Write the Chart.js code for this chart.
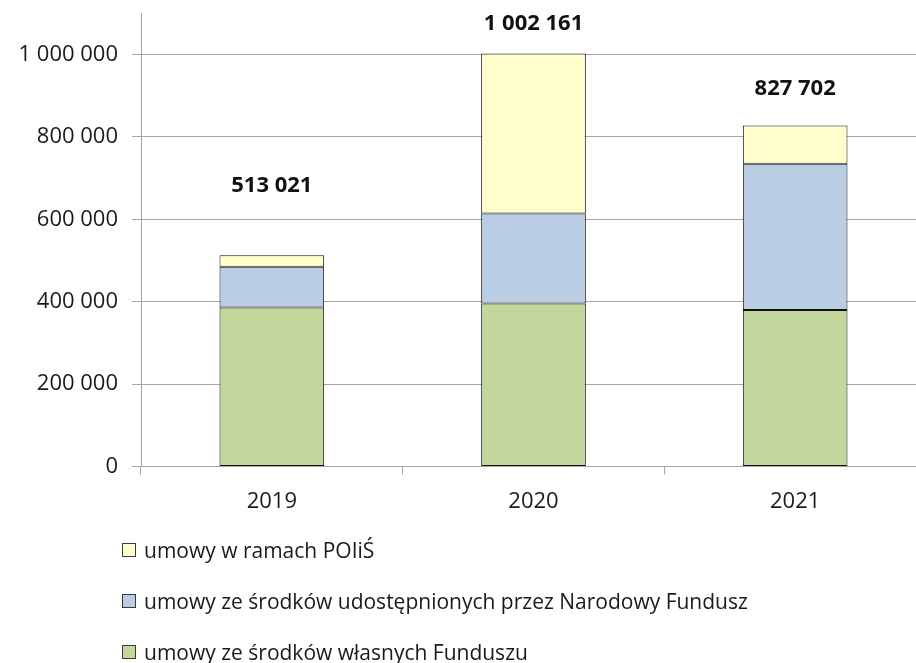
<!DOCTYPE html>
<html lang="pl">
<head>
<meta charset="utf-8">
<title>Umowy 2019-2021</title>
<script src="https://cdn.jsdelivr.net/npm/chart.js@4"></script>
<style>
  html, body { margin: 0; padding: 0; background: #fff; overflow: hidden; }
  body { width: 916px; height: 663px; position: relative; font-family: 'Open Sans', sans-serif; }
  #wrap { position: absolute; left: 0; top: -14px; width: 926px; height: 543px; }
  #legend { position: absolute; left: 122px; top: 524px; }
  .item { display: flex; align-items: center; height: 51px; font-size: 21px; color: #1a1a1a; white-space: nowrap; }
  .box { width: 12px; height: 12px; border: 1px solid #3a3a3a; margin-right: 8px; }
</style>
</head>
<body>
<div id="wrap"><canvas id="chart"></canvas></div>
<div id="legend"></div>
<script>
// data
const years = ['2019', '2020', '2021'];
const ownFunds = [386000, 396000, 380000];
const nationalFund = [99000, 218000, 355000];
const poiis = [28021, 388161, 92702];
const totals = [513021, 1002161, 827702];

const seriesNames = [
  'umowy ze środków własnych Funduszu',
  'umowy ze środków udostępnionych przez Narodowy Fundusz',
  'umowy w ramach POIiŚ'
];

function fmt(v) {
  return String(v).replace(/\B(?=(\d{3})+(?!\d))/g, ' ');
}

Chart.defaults.font.family = "'Open Sans', sans-serif";
Chart.defaults.color = '#1a1a1a';

// how far above each stack its total sits
const labelLift = [69, 30, 37];

const totalsPlugin = {
  id: 'totals',
  afterDatasetsDraw(chart) {
    const ctx = chart.ctx;
    const xs = chart.scales.x;
    const ys = chart.scales.y;
    ctx.save();
    ctx.font = "bold 22px 'Open Sans', sans-serif";
    ctx.fillStyle = '#111';
    ctx.textAlign = 'center';
    ctx.textBaseline = 'middle';
    totals.forEach(function (t, i) {
      ctx.fillText(fmt(t), xs.getPixelForValue(i), ys.getPixelForValue(t) - labelLift[i]);
    });
    ctx.restore();
  }
};

const barStyle = {
  borderColor: '#111',
  borderWidth: 1,
  borderSkipped: false,
  barPercentage: 0.4,
  categoryPercentage: 1
};

// only every 200 000 gets a label and a line, the 1 100 000 top stays bare
function onStep(v) { return Math.round(v) % 200000 === 0; }

const chart = new Chart(document.getElementById('chart').getContext('2d'), {
  type: 'bar',
  data: {
    labels: years,
    datasets: [
      Object.assign({ label: seriesNames[0], data: ownFunds, backgroundColor: '#c3d69b' }, barStyle),
      Object.assign({ label: seriesNames[1], data: nationalFund, backgroundColor: '#b9cde5' }, barStyle),
      Object.assign({ label: seriesNames[2], data: poiis, backgroundColor: '#ffffcc' }, barStyle)
    ]
  },
  options: {
    responsive: true,
    maintainAspectRatio: false,
    animation: false,
    layout: { padding: 0 },
    plugins: {
      legend: { display: false },
      tooltip: { enabled: false }
    },
    scales: {
      x: {
        stacked: true,
        grid: { offset: true, drawOnChartArea: false, tickLength: 8, color: '#a6a6a6' },
        border: { color: '#a6a6a6' },
        ticks: { font: { size: 22 }, color: '#1a1a1a', padding: 14 }
      },
      y: {
        stacked: true,
        min: 0,
        max: 1100000,
        ticks: {
          stepSize: 100000,
          autoSkip: false,
          callback: function (v) { return onStep(v) ? fmt(v) : ''; },
          font: { size: 22 },
          color: '#1a1a1a',
          padding: 14
        },
        grid: {
          tickLength: 9,
          color: function (c) { return c.tick && onStep(c.tick.value) ? '#a6a6a6' : 'rgba(0,0,0,0)'; }
        },
        border: { color: '#a6a6a6' },
        afterFit: function (s) { s.width = 141; }
      }
    }
  },
  plugins: [totalsPlugin]
});

// legend, top series first
const legend = document.getElementById('legend');
chart.data.datasets.slice().reverse().forEach(function (ds) {
  const row = document.createElement('div');
  row.className = 'item';
  const box = document.createElement('span');
  box.className = 'box';
  box.style.background = ds.backgroundColor;
  row.appendChild(box);
  row.appendChild(document.createTextNode(ds.label));
  legend.appendChild(row);
});
</script>
</body>
</html>
